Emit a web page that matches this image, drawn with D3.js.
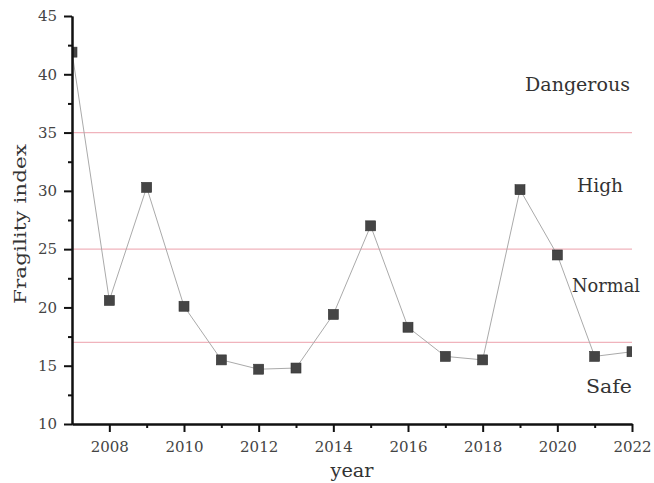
<!DOCTYPE html>
<html>
<head>
<meta charset="utf-8">
<script src="https://cdn.jsdelivr.net/npm/d3@7/dist/d3.min.js"></script>
<style>
  html, body { margin: 0; padding: 0; background: #fff; }
  svg { display: block; }
</style>
</head>
<body>
<svg id="chart" width="654" height="483"></svg>
<script>
// Fragility index by year
const years = [2007, 2008, 2009, 2010, 2011, 2012, 2013, 2014, 2015, 2016, 2017, 2018, 2019, 2020, 2021, 2022];
const fragility = [41.9, 20.6, 30.3, 20.1, 15.5, 14.7, 14.8, 19.4, 27.0, 18.3, 15.8, 15.5, 30.1, 24.5, 15.8, 16.2];

// Threshold lines separating the risk bands
const thresholds = [35, 25, 17];
const bandLabels = ["Dangerous", "High", "Normal", "Safe"];
const bandValues = [38.6, 29.9, 21.3, 12.7]; // baseline of each band label, in index units

const yTicks = [10, 15, 20, 25, 30, 35, 40, 45];
const xTicks = [2008, 2010, 2012, 2014, 2016, 2018, 2020, 2022];

const svg = d3.select("#chart");
const mLeft = 72, mRight = 632, mTop = 16, mBottom = 424;

const x = d3.scaleLinear().domain([2007, 2022]).range([mLeft, mRight]);
const y = d3.scaleLinear().domain([10, 45]).range([mBottom, mTop]);

const serif = "'DejaVu Serif', 'Liberation Serif', serif";

svg.append("defs").append("clipPath").attr("id", "plotClip")
  .append("rect").attr("x", mLeft).attr("y", mTop - 1)
  .attr("width", mRight - mLeft).attr("height", mBottom - mTop + 1);

// threshold lines
svg.append("g").selectAll("line").data(thresholds).join("line")
  .attr("x1", mLeft).attr("x2", mRight)
  .attr("y1", d => y(d)).attr("y2", d => y(d))
  .attr("stroke", "#f0b3bc").attr("stroke-width", 1.2);

// band labels
const labelPos = [
  { x: 630, w: 105 },
  { x: 623, w: 46 },
  { x: 640, w: 68 },
  { x: 632, w: 46 }
];
svg.append("g").selectAll("text").data(bandLabels).join("text")
  .attr("x", (d, i) => labelPos[i].x)
  .attr("y", (d, i) => y(bandValues[i]))
  .attr("text-anchor", "end")
  .attr("textLength", (d, i) => labelPos[i].w)
  .attr("lengthAdjust", "spacingAndGlyphs")
  .attr("font-family", serif)
  .attr("font-size", 18)
  .attr("fill", "#333")
  .text(d => d);

// series line and square markers
const plot = svg.append("g").attr("clip-path", "url(#plotClip)");
const pts = years.map((yr, i) => [yr, fragility[i]]);
plot.append("path")
  .datum(pts)
  .attr("fill", "none")
  .attr("stroke", "#aaaaaa")
  .attr("stroke-width", 1)
  .attr("d", d3.line().x(d => x(d[0])).y(d => y(d[1])));

const s = 10;
plot.selectAll("rect.pt").data(pts).join("rect")
  .attr("class", "pt")
  .attr("x", d => x(d[0]) - s / 2)
  .attr("y", d => y(d[1]) - s / 2)
  .attr("width", s).attr("height", s)
  .attr("fill", "#454545")
  .attr("stroke", "#333")
  .attr("stroke-width", 0.6);

// axes
function styleAxis(g) {
  g.selectAll(".domain").attr("stroke", "#111").attr("stroke-width", 2);
  g.selectAll(".tick line").attr("stroke", "#111").attr("stroke-width", 2);
  g.selectAll(".tick text").attr("font-family", serif).attr("font-size", 15).attr("fill", "#444");
}

const yMinor = d3.range(12.5, 45, 5);
svg.append("g").attr("transform", `translate(${mLeft},0)`)
  .call(d3.axisLeft(y).tickValues(yMinor).tickSize(4).tickSizeOuter(0).tickFormat(""))
  .call(styleAxis);
svg.append("g").attr("transform", `translate(${mLeft},0)`)
  .call(d3.axisLeft(y).tickValues(yTicks).tickSize(8).tickSizeOuter(0).tickPadding(7).tickFormat(d3.format("d")))
  .call(styleAxis);

const xMinor = d3.range(2009, 2022, 2);
svg.append("g").attr("transform", `translate(0,${mBottom})`)
  .call(d3.axisBottom(x).tickValues(xMinor).tickSize(4).tickSizeOuter(0).tickFormat(""))
  .call(styleAxis);
svg.append("g").attr("transform", `translate(0,${mBottom})`)
  .call(d3.axisBottom(x).tickValues(xTicks).tickSize(8).tickSizeOuter(0).tickPadding(9).tickFormat(d3.format("d")))
  .call(styleAxis);

// axis titles
svg.append("text")
  .attr("x", (mLeft + mRight) / 2).attr("y", 477)
  .attr("text-anchor", "middle")
  .attr("textLength", 43).attr("lengthAdjust", "spacingAndGlyphs")
  .attr("font-family", serif).attr("font-size", 18).attr("fill", "#333")
  .text("year");

svg.append("text")
  .attr("transform", `translate(26,${(mTop + mBottom) / 2 + 4}) rotate(-90)`)
  .attr("text-anchor", "middle")
  .attr("textLength", 160).attr("lengthAdjust", "spacingAndGlyphs")
  .attr("font-family", serif).attr("font-size", 17).attr("fill", "#333")
  .text("Fragility index");
</script>
</body>
</html>
